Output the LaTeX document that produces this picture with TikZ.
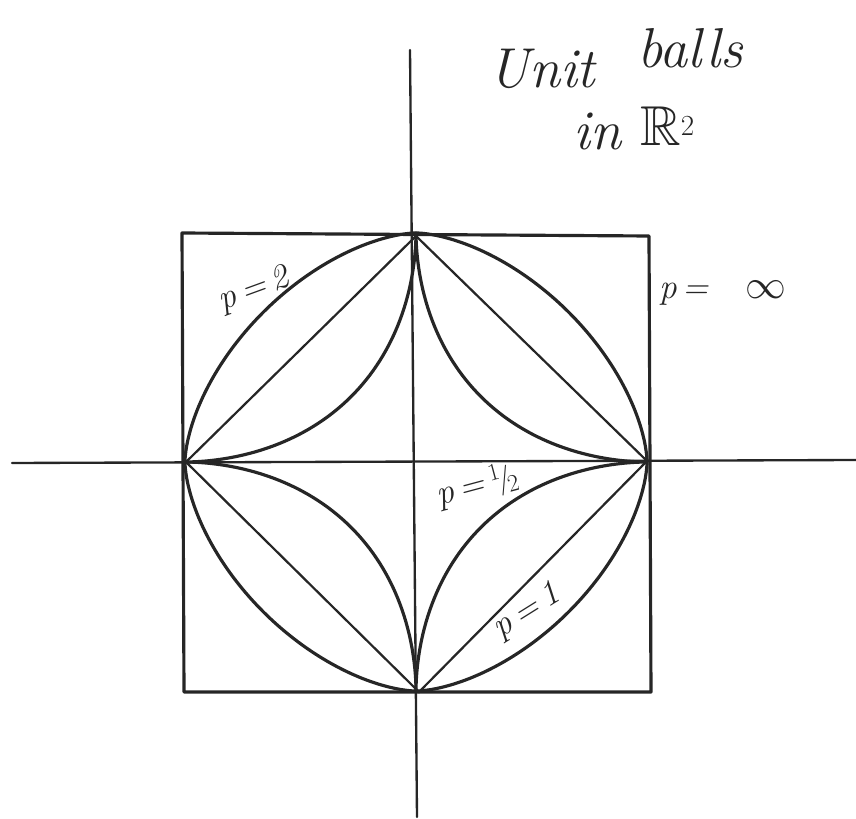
\documentclass[tikz,border=0pt]{standalone}
\usepackage{amssymb}
\begin{document}
\begin{tikzpicture}[x=0.03cm,y=-0.03cm,
  ink/.style={draw=black!85,line width=2.7pt,line cap=round,line join=round},
  thinink/.style={draw=black!85,line width=1.9pt,line cap=round},
  axis/.style={draw=black!85,line width=2pt,line cap=round},
  lbl/.style={font=\fontsize{30}{34}\selectfont\itshape,text=black!85,inner sep=0pt},
  ttl/.style={font=\fontsize{48}{52}\selectfont\itshape,text=black!85,inner sep=0pt,anchor=base west}]
\useasboundingbox (0,0) rectangle (856,819);
% axes
\coordinate (xl) at (12,463);
\coordinate (xr) at (856,460);
\coordinate (yt) at (410,50);
\coordinate (yb) at (417,817);
\draw[axis] (xl) -- (xr);
\draw[axis] (yt) -- (yb);
% square (p = infinity)
\coordinate (sq1) at (182,233);
\coordinate (sq2) at (649,236);
\coordinate (sq3) at (651,692);
\coordinate (sq4) at (184,692);
\draw[ink] (sq1) -- (sq2) -- (sq3) -- (sq4) -- cycle;
% vertices of the unit balls
\coordinate (T) at (416,236);
\coordinate (R) at (647,461);
\coordinate (B) at (419,692);
\coordinate (L) at (186,462);
% p = 1
\draw[thinink] (T) -- (R) -- (B) -- (L) -- cycle;
% p = 2 (as hand drawn)
\draw[ink] plot[samples=361,domain=0:360]
  ({416+231*cos(\x)*max(abs(cos(\x)),0.0001)^0.21},
   {462-229*sin(\x)*max(abs(sin(\x)),0.0001)^0.21}) -- cycle;
% p = 1/2
\draw[ink] plot[samples=361,domain=0:360]
  ({416+231*cos(\x)*max(abs(cos(\x)),0.0001)^2.64},
   {462-229*sin(\x)*max(abs(sin(\x)),0.0001)^2.64}) -- cycle;
% labels
\node[lbl,rotate=20] (l2) at (254,290) {p\,=\,2};
\node[lbl] (linf) at (723,293) {p\,=\ \ \ \scalebox{1.4}{$\infty$}};
\node[lbl,rotate=15] (lhalf) at (477,486) {p\,=\,$^1\!/\!_2$};
\node[lbl,rotate=32] (l1) at (527,612) {p\,=\,1};
\node[ttl] (t1) at (488,88) {Unit};
\node[ttl] (t2) at (637,68) {balls};
\node[ttl] (t3) at (573,150) {in};
\node[ttl] (t4) at (640,146) {$\mathbb{R}^2$};
\end{tikzpicture}
\end{document}
